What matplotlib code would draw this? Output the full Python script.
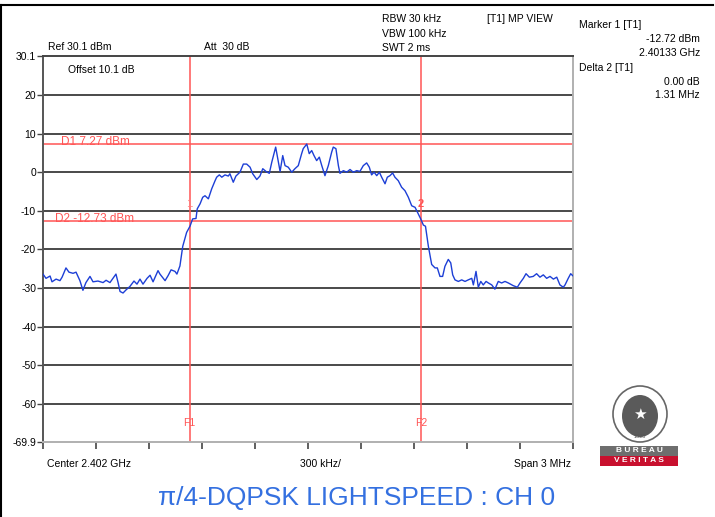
import matplotlib.pyplot as plt
from matplotlib.patches import Ellipse, Rectangle

# Spectrum trace, frequency offset from centre [MHz] and level [dBm]
freq_mhz = [
    -1.500, -1.483, -1.460, -1.449, -1.426, -1.404, -1.392, -1.370, -1.353, -1.330,
    -1.313, -1.291, -1.274, -1.257, -1.234, -1.217, -1.189, -1.160, -1.143, -1.121,
    -1.104, -1.087, -1.075, -1.064, -1.047, -1.030, -1.008, -0.985, -0.968, -0.951,
    -0.934, -0.911, -0.894, -0.877, -0.849, -0.838, -0.809, -0.792, -0.775, -0.753,
    -0.742, -0.725, -0.709, -0.687, -0.668, -0.653, -0.634, -0.627, -0.611, -0.596,
    -0.583, -0.564, -0.545, -0.526, -0.517, -0.502, -0.488, -0.470, -0.451, -0.442,
    -0.423, -0.408, -0.385, -0.366, -0.347, -0.328, -0.313, -0.290, -0.272, -0.256,
    -0.238, -0.219, -0.205, -0.183, -0.171, -0.158, -0.143, -0.130, -0.112, -0.092,
    -0.074, -0.055, -0.036, -0.027, -0.007, 0.007, 0.021, 0.034, 0.049, 0.064,
    0.078, 0.096, 0.115, 0.134, 0.143, 0.158, 0.172, 0.181, 0.200, 0.219,
    0.238, 0.256, 0.276, 0.294, 0.313, 0.332, 0.347, 0.360, 0.374, 0.389,
    0.404, 0.417, 0.436, 0.449, 0.464, 0.479, 0.492, 0.511, 0.530, 0.549,
    0.568, 0.587, 0.606, 0.624, 0.638, 0.653, 0.665, 0.681, 0.700, 0.719,
    0.732, 0.747, 0.762, 0.775, 0.794, 0.808, 0.819, 0.832, 0.851, 0.870,
    0.889, 0.907, 0.927, 0.936, 0.951, 0.964, 0.978, 0.992, 1.008, 1.021,
    1.040, 1.058, 1.077, 1.096, 1.115, 1.134, 1.162, 1.185, 1.200, 1.219,
    1.234, 1.253, 1.275, 1.294, 1.313, 1.332, 1.351, 1.370, 1.389, 1.408,
    1.426, 1.445, 1.455, 1.473, 1.487, 1.498,
]
level_dbm = [
    -26.4, -27.5, -26.9, -28.4, -27.7, -28.1, -27.2, -24.8, -25.9, -26.2,
    -25.9, -28.1, -30.6, -28.6, -27.0, -28.4, -28.2, -28.6, -28.0, -28.6,
    -27.5, -26.4, -28.6, -30.9, -31.3, -30.5, -29.6, -28.2, -29.0, -27.7,
    -29.0, -27.5, -26.7, -28.4, -25.5, -26.4, -28.1, -26.8, -25.3, -25.7,
    -26.4, -24.3, -19.2, -15.6, -14.0, -12.1, -12.0, -9.5, -8.2, -6.5,
    -6.1, -6.9, -4.3, -2.2, -1.3, -0.7, -1.3, -0.7, -1.0, -0.4,
    -2.6, -1.0, 0.0, 2.1, 2.1, 1.3, -0.4, -1.9, -1.0, 0.9,
    0.2, -0.3, 2.6, 6.5, 3.5, 0.2, 4.3, 1.7, 1.3, 0.0,
    0.9, 1.7, 4.8, 6.1, 7.3, 4.8, 5.6, 4.3, 3.0, 3.9,
    1.7, -0.9, 1.7, 5.2, 6.5, 6.1, 1.7, -0.3, 0.4, 0.0,
    0.7, 0.0, 0.4, 0.2, 1.7, 2.4, 1.3, -0.7, 0.0, -0.9,
    0.0, -1.3, -3.0, -1.3, -0.9, -0.2, -1.3, -2.2, -3.9, -4.8,
    -6.5, -8.7, -9.1, -10.8, -12.1, -13.7, -14.0, -19.1, -23.9, -24.8,
    -24.8, -27.0, -27.0, -24.4, -22.6, -23.5, -26.6, -27.9, -28.3, -27.9,
    -28.3, -27.9, -27.5, -29.2, -25.7, -29.8, -28.3, -29.2, -28.3, -28.7,
    -29.2, -30.3, -28.3, -28.7, -28.3, -28.7, -29.4, -29.8, -28.7, -27.5,
    -26.3, -27.2, -27.0, -26.3, -27.2, -26.6, -27.5, -27.0, -27.7, -27.2,
    -29.2, -29.8, -29.2, -27.5, -26.3, -26.8,
]

ytick_vals = [30.1, 20, 10, 0, -10, -20, -30, -40, -50, -60, -69.9]
ytick_labels = ["30.1", "20", "10", "0", "-10", "-20", "-30", "-40", "-50", "-60", "-69.9"]
grid_levels = [20, 10, 0, -10, -20, -30, -40, -50, -60]

d1_level = 7.27
d2_level = -12.73
f1_mhz = -0.67
f2_mhz = 0.64

W, H = 715, 517
RED = "#ff5555"


def px(x, y):
    return x / W, 1 - y / H


plt.rcParams['font.family'] = ['Liberation Sans', 'DejaVu Sans']
fig = plt.figure(figsize=(7.15, 5.17), dpi=100)
ax = fig.add_axes([43 / W, 1 - 442 / H, 530 / W, 386 / H])

for g in grid_levels:
    ax.axhline(g, color="#3a3a3a", lw=1.3, zorder=1)

ax.axhline(d1_level, color=RED, lw=1.1, zorder=2)
ax.axhline(d2_level, color=RED, lw=1.1, zorder=2)
ax.axvline(f1_mhz, color=RED, lw=1.1, zorder=2)
ax.axvline(f2_mhz, color=RED, lw=1.1, zorder=2)

ax.plot(freq_mhz, level_dbm, color="#1d3fd6", lw=1.0, zorder=3)

ax.set_xlim(-1.5, 1.5)
ax.set_ylim(-69.9, 30.1)
ax.set_yticks(ytick_vals)
ax.set_yticklabels(ytick_labels)
ax.set_xticks([-1.5 + 0.3 * i for i in range(11)])
ax.set_xticklabels([])
ax.tick_params(axis='y', length=4, width=1, color="#444444", labelsize=7.5, pad=1)
ax.tick_params(axis='x', length=5, width=1.2, color="#444444", direction='out')

ax.spines['left'].set_color("#555555")
ax.spines['top'].set_color("#444444")
ax.spines['right'].set_color("#b0b0b0")
ax.spines['bottom'].set_color("#b0b0b0")
for s in ax.spines.values():
    s.set_linewidth(1.4)

# marker annotations
ax.text(-1.398, d1_level - 0.3, "D1 7.27 dBm", color=RED, fontsize=8.5, va='baseline')
ax.text(-1.432, d2_level - 0.3, "D2 -12.73 dBm", color=RED, fontsize=8.5, va='baseline')
ax.text(f1_mhz, -8.2, "1", color="#ff8080", fontsize=8, ha='center', va='center')
ax.text(f2_mhz, -8.2, "2", color=RED, fontsize=8, ha='center', va='center', fontweight='bold')
ax.text(f1_mhz, -65, "F1", color=RED, fontsize=7.5, ha='center', va='center')
ax.text(f2_mhz, -65, "F2", color=RED, fontsize=7.5, ha='center', va='center')

fs = 7.5
fig.text(*px(48, 50), "Ref 30.1 dBm", fontsize=fs, va='baseline')
fig.text(*px(204, 50), "Att  30 dB", fontsize=fs, va='baseline')
fig.text(*px(68, 73), "Offset 10.1 dB", fontsize=fs, va='baseline')
fig.text(*px(382, 22), "RBW 30 kHz", fontsize=fs, va='baseline')
fig.text(*px(382, 37), "VBW 100 kHz", fontsize=fs, va='baseline')
fig.text(*px(382, 51), "SWT 2 ms", fontsize=fs, va='baseline')
fig.text(*px(487, 22), "[T1] MP VIEW", fontsize=fs, va='baseline')
fig.text(*px(579, 28), "Marker 1 [T1]", fontsize=fs, va='baseline')
fig.text(*px(700, 42), "-12.72 dBm", fontsize=fs, va='baseline', ha='right')
fig.text(*px(700, 56), "2.40133 GHz", fontsize=fs, va='baseline', ha='right')
fig.text(*px(579, 71), "Delta 2 [T1]", fontsize=fs, va='baseline')
fig.text(*px(700, 85), "0.00 dB", fontsize=fs, va='baseline', ha='right')
fig.text(*px(700, 98), "1.31 MHz", fontsize=fs, va='baseline', ha='right')
fig.text(*px(47, 467), "Center 2.402 GHz", fontsize=fs, va='baseline')
fig.text(*px(320, 467), "300 kHz/", fontsize=fs, va='baseline', ha='center')
fig.text(*px(571, 467), "Span 3 MHz", fontsize=fs, va='baseline', ha='right')

fig.text(*px(357, 498), "\u03c0/4-DQPSK LIGHTSPEED : CH 0", fontsize=19,
         color="#3470e0", ha='center', va='center')

# outer frame lines
fig.add_artist(plt.Line2D([0, 0.997], [1 - 5 / H, 1 - 5 / H], color='black', lw=1.5))
fig.add_artist(plt.Line2D([0.0015, 0.0015], [0, 1 - 5 / H], color='black', lw=1.5))

# Bureau Veritas logo (approximation)
lx, ly = px(640, 414)
fig.add_artist(Ellipse((lx, ly), 54 / W, 56 / H, facecolor='white', edgecolor='#666666', lw=1.2))
fig.add_artist(Ellipse((lx, ly - 2 / H), 36 / W, 42 / H, facecolor='#5a5a5a', edgecolor='none'))
fig.text(lx, ly, "\u2605", color='white', fontsize=11, ha='center', va='center', family='DejaVu Sans')
fig.text(*px(640, 437), "1828", color='#555555', fontsize=4, ha='center', va='center')
fig.add_artist(Rectangle(px(600, 456), 78 / W, 10 / H, facecolor='#6e6e6e', edgecolor='none'))
fig.add_artist(Rectangle(px(600, 466), 78 / W, 10 / H, facecolor='#c8102e', edgecolor='none'))
fig.text(*px(639, 451), "B U R E A U", color='white', fontsize=6, ha='center', va='center', fontweight='bold')
fig.text(*px(639, 461), "V E R I T A S", color='white', fontsize=6, ha='center', va='center', fontweight='bold')

fig.savefig("out.png", dpi=100)
